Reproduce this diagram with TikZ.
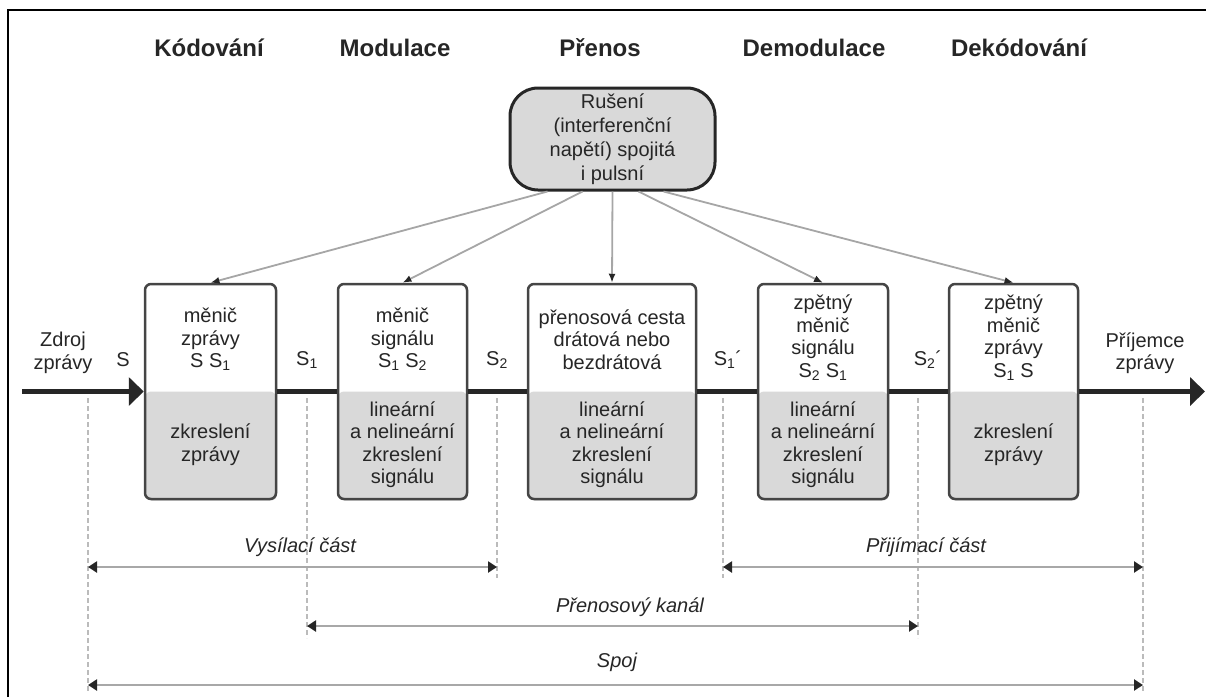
\documentclass[tikz,border=0pt]{standalone}
\usepackage{fontspec}
\setmainfont{Liberation Sans}
\usetikzlibrary{arrows.meta,shadows}
\definecolor{boxgray}{HTML}{D9D9D9}
\definecolor{inkdark}{HTML}{262626}
\definecolor{framedark}{HTML}{454545}
\definecolor{guidegray}{HTML}{BBBBBB}
\definecolor{dimgray}{HTML}{A8A8A8}
\tikzset{
  every node/.style={text=inkdark, align=center, inner sep=0pt,
    font=\fontsize{20}{22.5}\selectfont},
  stage/.style={font=\fontsize{24}{28}\selectfont\bfseries},
  block/.style={draw=framedark, line width=2.5pt, rounded corners=6pt,
    fill=white, minimum width=#1, minimum height=215pt,
    path picture={\fill[boxgray] (path picture bounding box.west)
      rectangle (path picture bounding box.south east);},
    drop shadow={shadow xshift=1pt, shadow yshift=-1.5pt, opacity=.3}},
  noise/.style={draw=inkdark, line width=3pt, fill=boxgray,
    rounded corners=28pt, minimum width=205pt, minimum height=102pt,
    font=\fontsize{20}{24}\selectfont},
  mainline/.style={draw=inkdark, line width=5pt},
  mainarrow/.style={mainline, -{Triangle[length=15pt,width=28pt]}},
  interf/.style={draw=gray!70, line width=1.8pt,
    -{Latex[length=9pt,width=7pt,color=inkdark]}},
  guide/.style={draw=guidegray, line width=1.5pt, dash pattern=on 5pt off 3pt},
  dimline/.style={draw=dimgray, line width=2.5pt,
    {Triangle[length=9pt,width=11pt,color=inkdark]}-{Triangle[length=9pt,width=11pt,color=inkdark]}},
  dimlabel/.style={font=\fontsize{20}{22}\selectfont\itshape}
}
\begin{document}
\begin{tikzpicture}[x=1pt,y=-1pt]
  \useasboundingbox (0,0) rectangle (1206,697);
  \draw[line width=2pt,black] (8,697) -- (8,10) -- (1206,10);

  % stages
  \node[stage] (kod)   at (209,48)  {Kódování};
  \node[stage] (mod)   at (395,48)  {Modulace};
  \node[stage] (pren)  at (600,48)  {Přenos};
  \node[stage] (demod) at (814,48)  {Demodulace};
  \node[stage] (dekod) at (1019,48) {Dekódování};

  \node[noise] (noise) at (612.5,139)
    {Rušení\\(interferenční\\napětí) spojitá\\i pulsní};

  % blocks
  \node[block=131pt] (b1) at (210.5,391.5) {};
  \node[block=129pt] (b2) at (402.5,391.5) {};
  \node[block=168pt] (b3) at (612,391.5) {};
  \node[block=130pt] (b4) at (823,391.5) {};
  \node[block=129pt] (b5) at (1013.5,391.5) {};

  \node (b1t) at ([yshift=52pt]b1.center) {měnič\\zprávy\\S S\textsubscript{1}};
  \node (b1b) at ([yshift=-53pt]b1.center) {zkreslení\\zprávy};
  \node (b2t) at ([yshift=52pt]b2.center) {měnič\\signálu\\S\textsubscript{1} S\textsubscript{2}};
  \node (b2b) at ([yshift=-53pt]b2.center) {lineární\\a nelineární\\zkreslení\\signálu};
  \node (b3t) at ([yshift=52pt]b3.center) {přenosová cesta\\drátová nebo\\bezdrátová};
  \node (b3b) at ([yshift=-53pt]b3.center) {lineární\\a nelineární\\zkreslení\\signálu};
  \node (b4t) at ([yshift=54pt]b4.center) {zpětný\\měnič\\signálu\\S\textsubscript{2} S\textsubscript{1}};
  \node (b4b) at ([yshift=-53pt]b4.center) {lineární\\a nelineární\\zkreslení\\signálu};
  \node (b5t) at ([yshift=54pt]b5.center) {zpětný\\měnič\\zprávy\\S\textsubscript{1} S};
  \node (b5b) at ([yshift=-53pt]b5.center) {zkreslení\\zprávy};

  % signal labels
  \node (src) at (63,353)   {Zdroj\\zprávy};
  \node (dst) at (1145,353) {Příjemce\\zprávy};
  \node (s0)  at (123,360)  {S};
  \node (s1)  at (307,360)  {S\textsubscript{1}};
  \node (s2)  at (497,360)  {S\textsubscript{2}};
  \node (s1p) at (728,360)  {S\textsubscript{1}´};
  \node (s2p) at (928,360)  {S\textsubscript{2}´};

  % main signal path
  \coordinate (in)  at (22,391.5);
  \coordinate (out) at (1205,391.5);
  \draw[mainarrow] (in) -- (b1.west);
  \draw[mainline] (b1.east) -- (b2.west);
  \draw[mainline] (b2.east) -- (b3.west);
  \draw[mainline] (b3.east) -- (b4.west);
  \draw[mainline] (b4.east) -- (b5.west);
  \draw[mainarrow] (b5.east) -- (out);

  % interference
  \draw[interf] ([xshift=-65pt]noise.south) -- (b1.north);
  \draw[interf] ([xshift=-30pt]noise.south) -- (b2.north);
  \draw[interf] (noise.south) -- (b3.north);
  \draw[interf] ([xshift=26pt]noise.south) -- (b4.north);
  \draw[interf] ([xshift=51pt]noise.south) -- (b5.north);

  % guides
  \coordinate (g1) at (88,398);
  \coordinate (g2) at (307,398);
  \coordinate (g3) at (497,398);
  \coordinate (g4) at (723,398);
  \coordinate (g5) at (918,398);
  \coordinate (g6) at (1143,398);
  \draw[guide] (g1) -- ++(0,294);
  \draw[guide] (g2) -- ++(0,240);
  \draw[guide] (g3) -- ++(0,180);
  \draw[guide] (g4) -- ++(0,180);
  \draw[guide] (g5) -- ++(0,240);
  \draw[guide] (g6) -- ++(0,294);

  % parts of the link
  \coordinate (lvl1) at (0,567);
  \coordinate (lvl2) at (0,626);
  \coordinate (lvl3) at (0,685);
  \node[dimlabel] (vys)   at (300,547) {Vysílací část};
  \node[dimlabel] (prij)  at (926,547) {Přijímací část};
  \node[dimlabel] (kanal) at (630,607) {Přenosový kanál};
  \node[dimlabel] (spoj)  at (617,662) {Spoj};
  \draw[dimline] (g1 |- lvl1) -- (g3 |- lvl1);
  \draw[dimline] (g4 |- lvl1) -- (g6 |- lvl1);
  \draw[dimline] (g2 |- lvl2) -- (g5 |- lvl2);
  \draw[dimline] (g1 |- lvl3) -- (g6 |- lvl3);
\end{tikzpicture}
\end{document}
